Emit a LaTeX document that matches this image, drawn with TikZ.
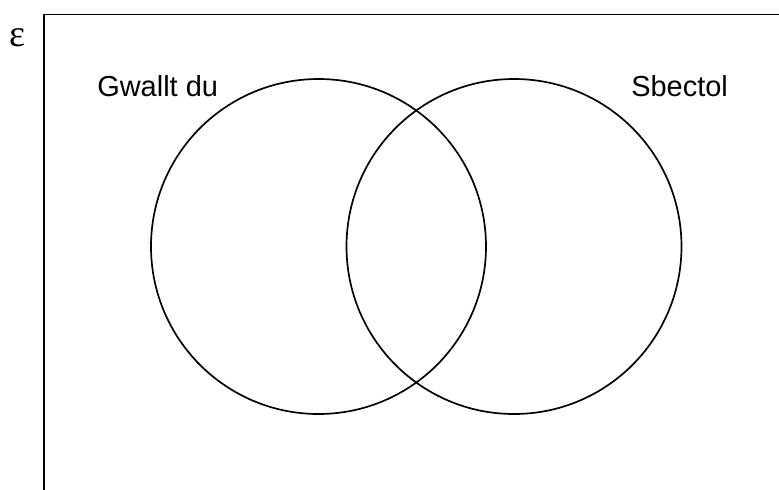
\documentclass[tikz,border=0pt]{standalone}
\usepackage{fontspec}
\setmainfont{Liberation Sans}
\newfontfamily\epsfont{Liberation Serif}
\usetikzlibrary{positioning}

\begin{document}
\begin{tikzpicture}[
  x=0.025cm, y=-0.025cm,
  set/.style={draw, circle, line width=1.2pt, minimum size=335*0.025cm, inner sep=0pt},
  universe/.style={line width=1.4pt},
  lbl/.style={font=\fontsize{20.6}{24}\selectfont, inner sep=0pt, anchor=base west},
  every node/.style={inner sep=0pt}
]
\useasboundingbox (0,0) rectangle (779,489);

% ---- universal set (right and bottom edges lie outside the crop) ----
\begin{scope}
  \clip (0,0) rectangle (779,489);
  \draw[universe] (44,520) -- (44,14.5) -- (820,14.5);
\end{scope}
\node (eps) at (17.5,38) {\epsfont\fontsize{27}{30}\selectfont ε};

% ---- the two sets ----
\node[set] (hair)    at (318.5,246.5) {};
\node[set] (glasses) at (514,246.5)   {};

\node[lbl] (hairlbl)    at (97,96)  {Gwallt du};
\node[lbl] (glasseslbl) at (631,96) {Sbectol};

\end{tikzpicture}
\end{document}
